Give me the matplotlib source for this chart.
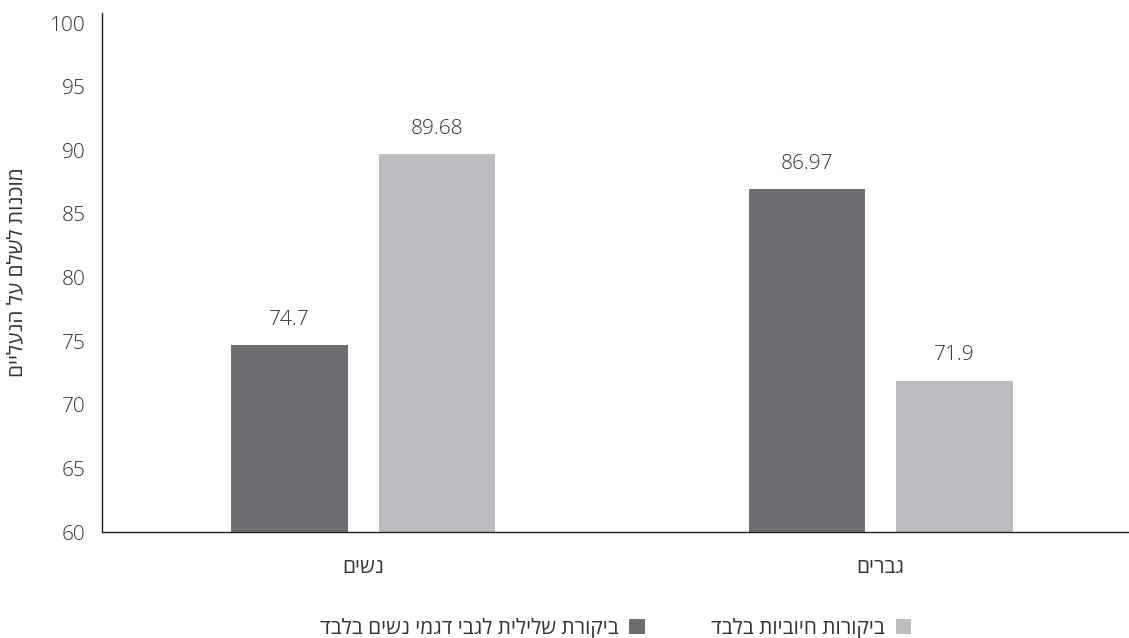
import matplotlib.pyplot as plt
import numpy as np

plt.rcParams['font.family'] = ['Open Sans', 'DejaVu Sans']


def rtl(s):
    # matplotlib has no bidi support, flip Hebrew for display
    return s[::-1]


groups = ['נשים', 'גברים']
series_names = ['ביקורת שלילית לגבי דגמי נשים בלבד', 'ביקורות חיוביות בלבד']
negative = [74.7, 86.97]
positive = [89.68, 71.9]
yticks = [60, 65, 70, 75, 80, 85, 90, 95, 100]
ylabel = 'מוכנות לשלם על הנעליים'

dark = '#6d6e71'
light = '#bcbdc0'
txt = '#333333'
fs = 15

fig = plt.figure(figsize=(11.29, 6.38), dpi=100)
ax = fig.add_axes([0.0903, 0.1661, 0.9097, 0.8135])

x = np.arange(len(groups))
w = 0.225
off = 0.1426
b1 = ax.bar(x - off, negative, w, color=dark, label=rtl(series_names[0]))
b2 = ax.bar(x + off, positive, w, color=light, label=rtl(series_names[1]))

for bars, vals in [(b1, negative), (b2, positive)]:
    for r, v in zip(bars, vals):
        ax.annotate(f'{v:g}', (r.get_x() + r.get_width() / 2, v),
                    xytext=(0, 11), textcoords='offset points',
                    ha='center', va='bottom', fontsize=fs, color=txt,
                    fontweight='light')

ax.set_ylim(60, 100.79)
ax.set_xlim(-0.505, 1.48)
ax.set_yticks(yticks)
ax.set_yticklabels([str(t) for t in yticks], fontweight='light')
ax.set_xticks(x)
ax.set_xticklabels([rtl(g) for g in groups], fontweight='normal')
ax.tick_params(axis='both', length=0, labelsize=fs, colors=txt)
ax.tick_params(axis='y', pad=12)
ax.tick_params(axis='x', pad=18)
ax.set_ylabel(rtl(ylabel), fontsize=fs, color=txt, labelpad=16,
              fontweight='normal')

for s in ['top', 'right']:
    ax.spines[s].set_visible(False)
for s in ['left', 'bottom']:
    ax.spines[s].set_color('#222222')
    ax.spines[s].set_linewidth(1.0)

ax.legend(loc='center', bbox_to_anchor=(0.5, -0.185), ncol=2, frameon=False,
          markerfirst=False, prop={'size': fs, 'weight': 'normal'},
          handlelength=0.75, handleheight=0.75,
          handletextpad=0.5, columnspacing=3.2, labelcolor=txt)

fig.savefig('out.png', dpi=100)
